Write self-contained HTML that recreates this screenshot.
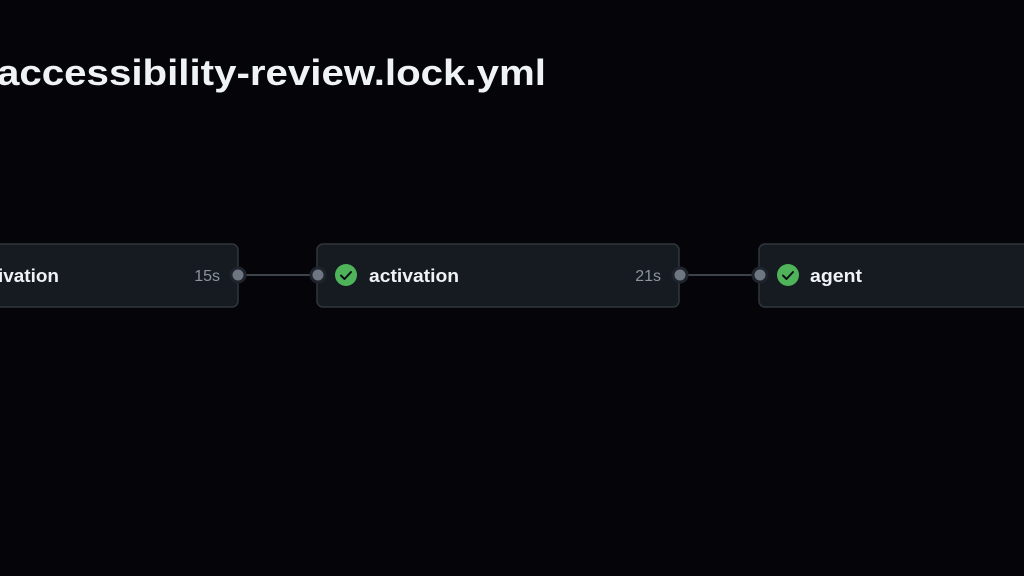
<!DOCTYPE html>
<html><head><meta charset="utf-8"><style>
html,body{margin:0;padding:0;background:#050509;}
svg{display:block;}
</style></head><body>
<svg width="1024" height="576" viewBox="0 0 1024 576" xmlns="http://www.w3.org/2000/svg" font-family="Liberation Sans, sans-serif">
<rect width="1024" height="576" fill="#050509"/>
<text x="-3" y="85" font-size="36" font-weight="bold" fill="#f0f3f6" textLength="549" lengthAdjust="spacingAndGlyphs">accessibility-review.lock.yml</text>
<line x1="244" y1="275" x2="312" y2="275" stroke="#3d434b" stroke-width="2"/>
<line x1="685" y1="275" x2="754" y2="275" stroke="#3d434b" stroke-width="2"/>
<rect x="-20" y="244" width="258" height="63" rx="6" fill="#161a21" stroke="#30363d" stroke-width="1.5"/>
<rect x="317" y="244" width="362" height="63" rx="6" fill="#161a21" stroke="#30363d" stroke-width="1.5"/>
<rect x="759" y="244" width="300" height="63" rx="6" fill="#161a21" stroke="#30363d" stroke-width="1.5"/>
<text x="-2" y="282" font-size="18.5" font-weight="bold" fill="#f0f3f6" textLength="61" lengthAdjust="spacingAndGlyphs">ivation</text>
<text x="220" y="281" font-size="16" fill="#8b949e" text-anchor="end">15s</text>
<circle cx="346" cy="275" r="11" fill="#4fb35a"/>
<path d="M341 275.5 L344.5 279 L351 272" fill="none" stroke="#0d1117" stroke-width="2" stroke-linecap="round" stroke-linejoin="round"/>
<text x="369" y="282" font-size="18.5" font-weight="bold" fill="#f0f3f6" textLength="90" lengthAdjust="spacingAndGlyphs">activation</text>
<text x="661" y="281" font-size="16" fill="#8b949e" text-anchor="end">21s</text>
<circle cx="788" cy="275" r="11" fill="#4fb35a"/>
<path d="M783 275.5 L786.5 279 L793 272" fill="none" stroke="#0d1117" stroke-width="2" stroke-linecap="round" stroke-linejoin="round"/>
<text x="810" y="282" font-size="18.5" font-weight="bold" fill="#f0f3f6" textLength="52" lengthAdjust="spacingAndGlyphs">agent</text>
<g fill="#6e7681" stroke="#1f242c" stroke-width="3">
<circle cx="238" cy="275" r="7"/>
<circle cx="318" cy="275" r="7"/>
<circle cx="680" cy="275" r="7"/>
<circle cx="760" cy="275" r="7"/>
</g>
</svg>
</body></html>
